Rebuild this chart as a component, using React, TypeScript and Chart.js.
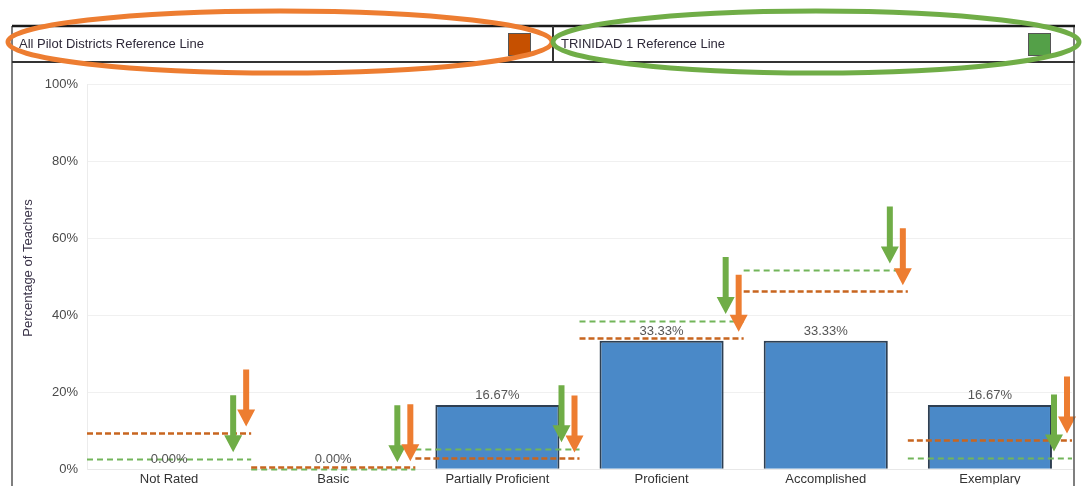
import React, { useEffect, useRef } from "react";
import { Chart, registerables } from "chart.js";

Chart.register(...registerables);

// ---- data ----
const categories = ["Not Rated", "Basic", "Partially Proficient", "Proficient", "Accomplished", "Exemplary"];
const teacherPercents = [0, 0, 16.67, 33.33, 33.33, 16.67];
const allPilotRef = [9.5, 0.5, 2.8, 34.1, 46.2, 7.7];
const trinidadRef = [2.6, 0, 5.2, 38.5, 51.6, 2.8];
const yTickValues = [0, 20, 40, 60, 80, 100];
const legendLabels = ["All Pilot Districts Reference Line", "TRINIDAD 1 Reference Line"];
const yAxisTitle = "Percentage of Teachers";

// ---- styles ----
const FONT = "'Liberation Sans', Arial, sans-serif";
const BAR_FILL = "#4a89c8";
const BAR_BORDER = "#2e3f52";
const PILOT_LINE = "#c8651f";
const TRIN_LINE = "#72b55a";
const PILOT_ARROW = "#ed7d31";
const TRIN_ARROW = "#70ad47";
const PILOT_SWATCH = "#c65000";
const TRIN_SWATCH = "#54a048";

function drawArrow(ctx: CanvasRenderingContext2D, x: number, tipY: number, color: string) {
  const len = 57, headL = 17, headW = 9, shaftW = 3;
  ctx.save();
  ctx.fillStyle = color;
  ctx.beginPath();
  ctx.moveTo(x - shaftW, tipY - len);
  ctx.lineTo(x + shaftW, tipY - len);
  ctx.lineTo(x + shaftW, tipY - headL);
  ctx.lineTo(x + headW, tipY - headL);
  ctx.lineTo(x, tipY);
  ctx.lineTo(x - headW, tipY - headL);
  ctx.lineTo(x - shaftW, tipY - headL);
  ctx.closePath();
  ctx.fill();
  ctx.restore();
}

const overlayPlugin = {
  id: "overlay",
  afterDatasetsDraw(chart: any) {
    const ctx: CanvasRenderingContext2D = chart.ctx;
    const xs = chart.scales.x;
    const ys = chart.scales.y;
    const half = (xs.getPixelForValue(1) - xs.getPixelForValue(0)) / 2;

    // reference lines
    const drawRef = (vals: number[], color: string, dash: number[], width: number) => {
      ctx.save();
      ctx.strokeStyle = color;
      ctx.lineWidth = width;
      ctx.setLineDash(dash);
      vals.forEach((v, i) => {
        const cx = xs.getPixelForValue(i);
        const y = Math.round(ys.getPixelForValue(v)) + 0.5;
        ctx.beginPath();
        ctx.moveTo(cx - half, y);
        ctx.lineTo(cx + half, y);
        ctx.stroke();
      });
      ctx.restore();
    };
    drawRef(trinidadRef, TRIN_LINE, [6, 4], 2);
    drawRef(allPilotRef, PILOT_LINE, [6, 3], 2.5);

    // bar value labels
    ctx.save();
    ctx.font = `13px ${FONT}`;
    ctx.fillStyle = "#555";
    ctx.textAlign = "center";
    ctx.textBaseline = "bottom";
    teacherPercents.forEach((v, i) => {
      const cx = xs.getPixelForValue(i);
      const y = ys.getPixelForValue(v);
      ctx.fillText(v.toFixed(2) + "%", cx, y - 3);
    });
    ctx.restore();

    // arrows pointing at reference lines
    categories.forEach((_, i) => {
      const right = xs.getPixelForValue(i) + half;
      drawArrow(ctx, right - 18, ys.getPixelForValue(trinidadRef[i]) - 7, TRIN_ARROW);
      drawArrow(ctx, right - 5, ys.getPixelForValue(allPilotRef[i]) - 6, PILOT_ARROW);
    });
  },
  afterDraw(chart: any) {
    const ctx: CanvasRenderingContext2D = chart.ctx;
    const H = chart.height;
    const left = 12, right = 1074, top = 26, bottom = 62, mid = 553;

    ctx.save();
    // y title
    ctx.save();
    ctx.translate(28, 268);
    ctx.rotate(-Math.PI / 2);
    ctx.font = `13px ${FONT}`;
    ctx.fillStyle = "#3a3348";
    ctx.textAlign = "center";
    ctx.textBaseline = "middle";
    ctx.fillText(yAxisTitle, 0, 0);
    ctx.restore();

    // frame
    ctx.strokeStyle = "#555";
    ctx.lineWidth = 1.5;
    ctx.beginPath();
    ctx.moveTo(left, top);
    ctx.lineTo(left, H);
    ctx.moveTo(right, top);
    ctx.lineTo(right, H);
    ctx.stroke();

    // header box
    ctx.strokeStyle = "#1a1a1a";
    ctx.lineWidth = 2.5;
    ctx.beginPath();
    ctx.moveTo(left, top);
    ctx.lineTo(right + 1, top);
    ctx.stroke();
    ctx.strokeStyle = "#333";
    ctx.lineWidth = 2;
    ctx.beginPath();
    ctx.moveTo(left, bottom);
    ctx.lineTo(right + 1, bottom);
    ctx.moveTo(mid, top);
    ctx.lineTo(mid, bottom);
    ctx.stroke();

    // legend texts
    ctx.font = `13px ${FONT}`;
    ctx.fillStyle = "#2f2a3a";
    ctx.textAlign = "left";
    ctx.textBaseline = "middle";
    ctx.fillText(legendLabels[0], 19, 44);
    ctx.fillText(legendLabels[1], 561, 44);

    // swatches
    const sw = (x: number, color: string) => {
      ctx.fillStyle = color;
      ctx.fillRect(x, 33, 23, 23);
      ctx.strokeStyle = "#555";
      ctx.lineWidth = 1;
      ctx.strokeRect(x + 0.5, 33.5, 22, 22);
    };
    sw(508, PILOT_SWATCH);
    sw(1028, TRIN_SWATCH);

    // highlight ellipses
    ctx.lineWidth = 5;
    ctx.strokeStyle = PILOT_ARROW;
    ctx.beginPath();
    ctx.ellipse(280, 42, 272, 31, 0, 0, Math.PI * 2);
    ctx.stroke();
    ctx.strokeStyle = TRIN_ARROW;
    ctx.beginPath();
    ctx.ellipse(816, 42, 263, 31, 0, 0, Math.PI * 2);
    ctx.stroke();
    ctx.restore();
  },
};

export default function App() {
  const canvasRef = useRef<HTMLCanvasElement | null>(null);

  useEffect(() => {
    if (!canvasRef.current) return;
    const chart = new Chart(canvasRef.current, {
      type: "bar",
      data: {
        labels: categories,
        datasets: [
          {
            label: "Percentage of Teachers",
            data: teacherPercents,
            backgroundColor: BAR_FILL,
            borderColor: BAR_BORDER,
            borderWidth: 2,
            barPercentage: 0.756,
            categoryPercentage: 1,
          },
        ],
      },
      options: {
        animation: false,
        responsive: false,
        devicePixelRatio: 1,
        layout: { padding: { left: 12, right: 10, top: 84, bottom: 0 } },
        plugins: {
          legend: { display: false },
          tooltip: { enabled: false },
          title: { display: false },
        },
        scales: {
          x: {
            grid: { display: false, drawTicks: false },
            border: { display: true, color: "#e8e8e8", width: 1 },
            ticks: {
              font: { family: FONT, size: 13 },
              color: "#333",
              padding: 2,
              maxRotation: 0,
              autoSkip: false,
            },
            afterFit: (scale: any) => {
              scale.height = 15;
            },
          },
          y: {
            min: 0,
            max: 100,
            afterBuildTicks: (scale: any) => {
              scale.ticks = yTickValues.map((v) => ({ value: v }));
            },
            grid: { color: "#f0f0f0", lineWidth: 1, drawTicks: false },
            border: { display: true, color: "#ececec", width: 1 },
            ticks: {
              font: { family: FONT, size: 13 },
              color: "#4a4a4a",
              padding: 9,
              callback: (v: any) => v + "%",
            },
            afterFit: (scale: any) => {
              scale.width = 75;
            },
          },
        },
      },
      plugins: [overlayPlugin],
    });
    return () => chart.destroy();
  }, []);

  return (
    <div style={{ position: "fixed", left: 0, top: 0, width: 1082, height: 486, background: "#fff" }}>
      <canvas ref={canvasRef} width={1082} height={486} style={{ display: "block", width: 1082, height: 486 }} />
    </div>
  );
}
